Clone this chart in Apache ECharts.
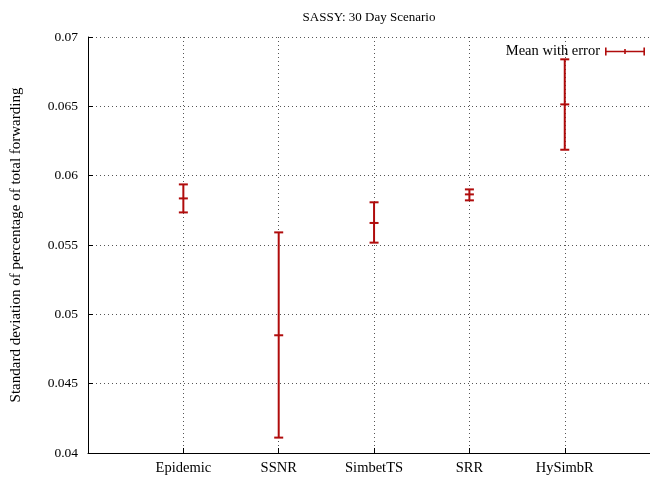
<!DOCTYPE html>
<html>
<head>
<meta charset="utf-8">
<script src="https://cdn.jsdelivr.net/npm/echarts@6/dist/echarts.min.js"></script>
<style>
  html, body { margin: 0; padding: 0; background: #fff; }
  #chart { width: 650px; height: 479px; }
</style>
</head>
<body>
<div id="chart"></div>
<script>
// Standard deviation of forwarding share per routing protocol (SASSY, 30 days)
const categories = ['Epidemic', 'SSNR', 'SimbetTS', 'SRR', 'HySimbR'];
const means = [0.05836, 0.04849, 0.05659, 0.05865, 0.06514];
const lows  = [0.05735, 0.04111, 0.05517, 0.05822, 0.06187];
const highs = [0.05937, 0.05591, 0.05808, 0.05901, 0.06839];
const yTicks = [0.04, 0.045, 0.05, 0.055, 0.06, 0.065, 0.07];

const FONT = '"Liberation Serif", "DejaVu Serif", serif';
const RED = '#b00c0c';

const errData = categories.map((c, i) => [i + 1, means[i], lows[i], highs[i]]);

function renderErrorBar(params, api) {
  const x = api.value(0);
  const pMean = api.coord([x, api.value(1)]);
  const pLow = api.coord([x, api.value(2)]);
  const pHigh = api.coord([x, api.value(3)]);
  const half = 4.5;
  const style = { stroke: RED, lineWidth: 2 };
  const seg = (x1, y1, x2, y2) => ({
    type: 'line', shape: { x1, y1, x2, y2 }, style
  });
  return {
    type: 'group',
    children: [
      seg(pLow[0], pLow[1], pHigh[0], pHigh[1]),
      seg(pLow[0] - half, pLow[1], pLow[0] + half, pLow[1]),
      seg(pHigh[0] - half, pHigh[1], pHigh[0] + half, pHigh[1]),
      seg(pMean[0] - half, pMean[1], pMean[0] + half, pMean[1])
    ]
  };
}

const chart = echarts.init(document.getElementById('chart'), null, { renderer: 'canvas' });
chart.setOption({
  animation: false,
  backgroundColor: '#fff',
  title: {
    text: 'SASSY: 30 Day Scenario',
    left: 364, top: 6, textAlign: 'center',
    textStyle: { fontFamily: FONT, fontSize: 13, fontWeight: 'normal', color: '#000' }
  },
  legend: {
    right: 5, top: 44, padding: 0,
    align: 'right',
    itemWidth: 40, itemHeight: 8, itemGap: 8,
    icon: 'path://M0,3.2H40V4.8H0Z M0,0H1.6V8H0Z M19.2,1.5H20.8V6.5H19.2Z M38.4,0H40V8H38.4Z',
    textStyle: { fontFamily: FONT, fontSize: 14.5, color: '#000', padding: [0, 0, 0, 0] },
    data: [{ name: 'Mean with error', itemStyle: { color: RED } }]
  },
  grid: { left: 88, right: 0, top: 37, bottom: 26, containLabel: false },
  xAxis: {
    type: 'value', min: 0, max: 5.894, interval: 1,
    axisLine: { show: true, lineStyle: { color: '#000', width: 1 } },
    axisTick: { show: true, inside: true, length: 5, lineStyle: { color: '#000' } },
    axisLabel: {
      fontFamily: FONT, fontSize: 14.5, color: '#000', margin: 8,
      formatter: v => categories[Math.round(v) - 1] || '',
      showMaxLabel: false
    },
    splitLine: { show: true, lineStyle: { color: '#555', type: [1, 3], width: 1 } }
  },
  yAxis: {
    type: 'value', min: 0.04, max: 0.07, interval: 0.005,
    name: 'Standard deviation of percentage of total forwarding',
    nameLocation: 'middle', nameGap: 64, nameRotate: 90,
    nameTextStyle: { fontFamily: FONT, fontSize: 15, color: '#000' },
    axisLine: { show: true, lineStyle: { color: '#000', width: 1 } },
    axisTick: { show: true, inside: true, length: 5, lineStyle: { color: '#000' } },
    axisLabel: {
      fontFamily: FONT, fontSize: 13.5, color: '#000', margin: 10,
      formatter: v => {
        const t = yTicks.find(k => Math.abs(k - v) < 1e-9);
        return t === undefined ? '' : String(+t.toFixed(3));
      }
    },
    splitLine: { show: true, lineStyle: { color: '#555', type: [1, 3], width: 1 } }
  },
  series: [{
    name: 'Mean with error',
    type: 'custom',
    renderItem: renderErrorBar,
    itemStyle: { color: RED },
    encode: { x: 0, y: [1, 2, 3] },
    data: errData
  }]
});
</script>
</body>
</html>
